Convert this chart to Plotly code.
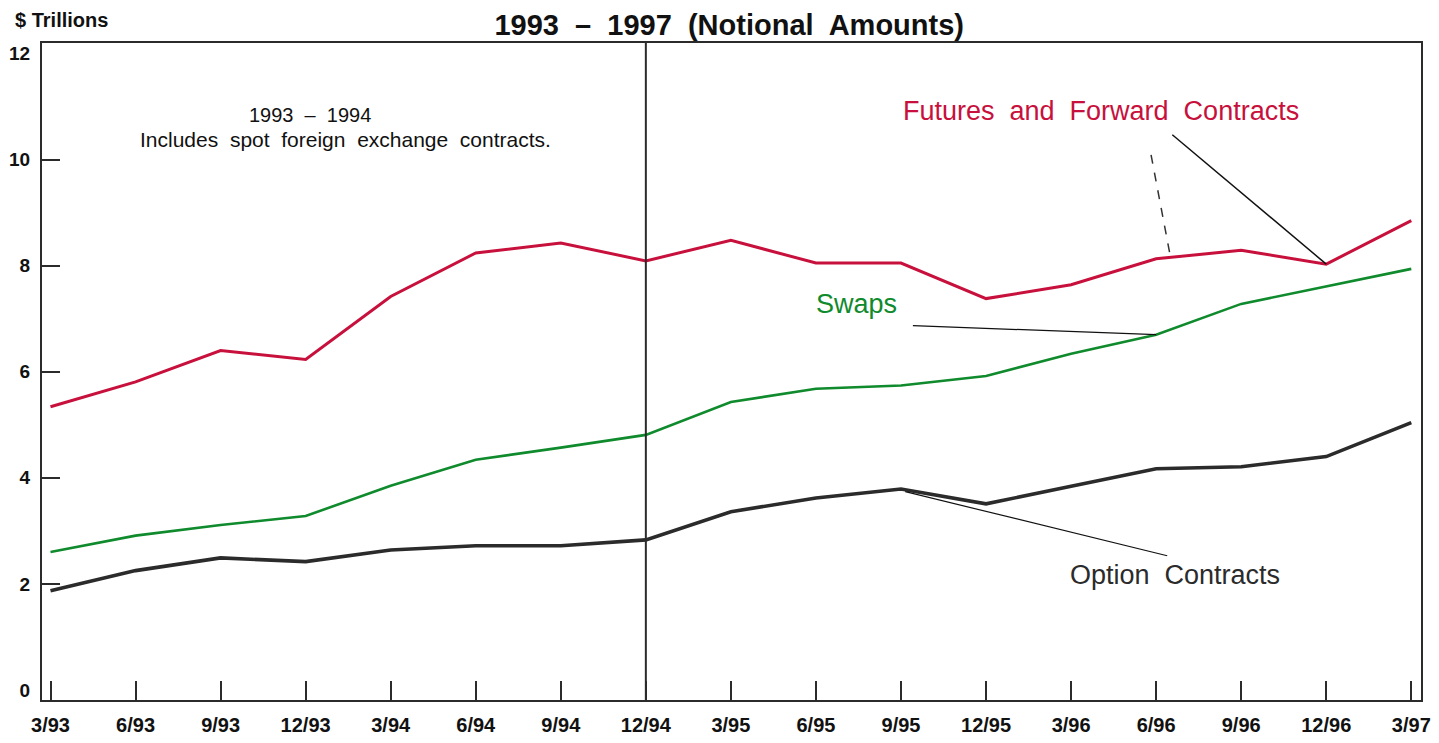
"""
Derivative contracts outstanding, 1993 - 1997 (notional amounts)
"""
import plotly.graph_objects as go

quarters = ["3/93", "6/93", "9/93", "12/93", "3/94", "6/94", "9/94", "12/94",
            "3/95", "6/95", "9/95", "12/95", "3/96", "6/96", "9/96", "12/96", "3/97"]

futures = [5.34, 5.81, 6.40, 6.23, 7.42, 8.24, 8.43, 8.09,
           8.48, 8.05, 8.05, 7.38, 7.64, 8.13, 8.29, 8.03, 8.85]
swaps = [2.60, 2.91, 3.11, 3.28, 3.85, 4.34, 4.57, 4.81,
         5.43, 5.68, 5.74, 5.92, 6.34, 6.70, 7.28, 7.61, 7.94]
options = [1.87, 2.25, 2.49, 2.42, 2.64, 2.72, 2.72, 2.83,
           3.36, 3.62, 3.79, 3.51, 3.84, 4.17, 4.21, 4.40, 5.04]

y_labels = [0, 2, 4, 6, 8, 10, 12]
y_ticks = [2, 4, 6, 8, 10]

RED = "#c8103c"
GREEN = "#0f8a2c"
DARK = "#2b2b2b"
FONT = "Liberation Sans"

xs = list(range(len(quarters)))
split = quarters.index("12/94")

fig = go.Figure()
fig.add_trace(go.Scatter(x=xs, y=futures, mode="lines", line=dict(color=RED, width=3)))
fig.add_trace(go.Scatter(x=xs, y=swaps, mode="lines", line=dict(color=GREEN, width=2.6)))
fig.add_trace(go.Scatter(x=xs, y=options, mode="lines", line=dict(color=DARK, width=3.6)))
# invisible trace only to carry the inner tick marks of the y axis
fig.add_trace(go.Scatter(x=[xs[0]], y=[y_ticks[0]], yaxis="y2", mode="markers",
                         marker=dict(opacity=0), hoverinfo="skip"))

# 1993-94 / 1995-97 divider
fig.add_shape(type="line", x0=split, x1=split, y0=0, y1=1, yref="paper",
              line=dict(color=DARK, width=2))

# leader lines
fig.add_shape(type="line", x0=13.19, y0=10.47, x1=15, y1=futures[15],
              line=dict(color="#111111", width=1.5))
fig.add_shape(type="line", x0=12.94, y0=10.09, x1=13.17, y1=8.15,
              line=dict(color="#333333", width=1.5, dash="dash"))
fig.add_shape(type="line", x0=10.14, y0=6.87, x1=13, y1=swaps[13],
              line=dict(color="#111111", width=1.2))
fig.add_shape(type="line", x0=10.05, y0=options[10] - 0.05, x1=13.13, y1=2.53,
              line=dict(color="#111111", width=1.2))

fig.add_annotation(x=12.35, y=10.91, text="Futures  and  Forward  Contracts", showarrow=False,
                   font=dict(family=FONT, size=27, color=RED))
fig.add_annotation(x=9.48, y=7.28, text="Swaps", showarrow=False,
                   font=dict(family=FONT, size=27, color=GREEN))
fig.add_annotation(x=13.22, y=2.17, text="Option  Contracts", showarrow=False,
                   font=dict(family=FONT, size=27, color=DARK))
fig.add_annotation(x=3.05, y=10.62, yanchor="bottom", borderpad=0, text="1993  \u2013  1994",
                   showarrow=False, font=dict(family=FONT, size=20, color="#111111"))
fig.add_annotation(x=3.47, y=10.62, yanchor="top", borderpad=0,
                   text="Includes  spot  foreign  exchange  contracts.", showarrow=False,
                   font=dict(family=FONT, size=21, color="#111111"))
fig.add_annotation(x=-0.021, y=1.035, xref="paper", yref="paper", xanchor="left", yanchor="middle",
                   text="$ Trillions", showarrow=False,
                   font=dict(family=FONT, size=20, color="#111111", weight="bold"))

# page body has an 8px margin, so the figure is 8px smaller than the window
fig.update_layout(
    width=1431, height=735,
    margin=dict(l=34, r=18, t=35, b=43),
    paper_bgcolor="white", plot_bgcolor="white",
    showlegend=False,
    title=dict(text="<b>1993  \u2013  1997  (Notional  Amounts)</b>",
               x=0.504, xref="container", y=0.977, yanchor="middle", xanchor="center",
               font=dict(family=FONT, size=29, color="#111111")),
    xaxis=dict(range=[-0.1, 16.114], tickvals=xs, ticktext=quarters, automargin=False,
               ticks="inside", ticklen=19, tickwidth=1.5, tickcolor=DARK,
               showline=True, linecolor=DARK, linewidth=2, mirror=True,
               showgrid=False, zeroline=False, ticklabelstandoff=6,
               tickfont=dict(family=FONT, size=20, color="#111111", weight="bold")),
    yaxis=dict(range=[-0.19, 12.2], tickvals=y_labels, ticks="", automargin=False,
               showline=True, linecolor=DARK, linewidth=2, mirror=True,
               showgrid=False, zeroline=False, ticklabelstandoff=6,
               tickfont=dict(family=FONT, size=19, color="#111111", weight="bold")),
    yaxis2=dict(range=[-0.19, 12.2], overlaying="y", side="left", tickvals=y_ticks,
                ticks="inside", ticklen=18, tickwidth=1.5, tickcolor=DARK, automargin=False,
                showticklabels=False, showgrid=False, zeroline=False, showline=False),
)

fig.write_html("out.html")
